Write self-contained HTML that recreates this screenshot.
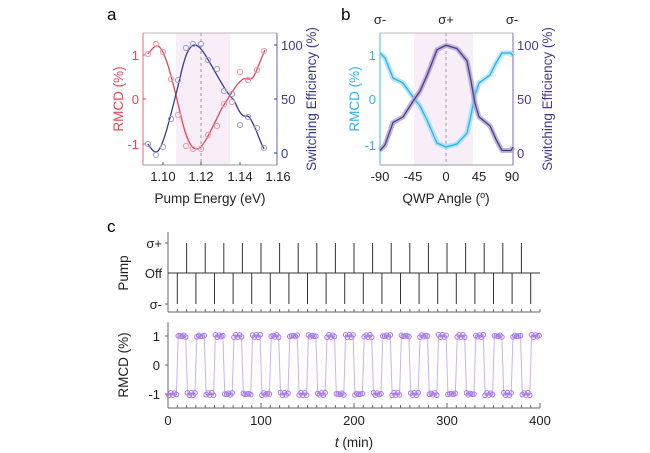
<!DOCTYPE html>
<html><head><meta charset="utf-8"><style>
body{margin:0;background:#fff;}
svg{display:block;font-family:"Liberation Sans",Arial,sans-serif;}
</style></head><body>
<svg id="s" width="650" height="453" viewBox="0 0 650 453" xmlns="http://www.w3.org/2000/svg">
<text x="107" y="20" font-size="17">a</text>
<rect x="176" y="33" width="54" height="132" fill="#f8eef8"/>
<line x1="201" y1="33" x2="201" y2="165" stroke="#999" stroke-dasharray="3,3" stroke-width="1"/>
<line x1="143" y1="33" x2="277" y2="33" stroke="#bbb"/>
<line x1="143" y1="165" x2="277" y2="165" stroke="#999"/>
<line x1="143" y1="33" x2="143" y2="165" stroke="#f09aa6" stroke-width="1.5"/>
<line x1="277" y1="33" x2="277" y2="165" stroke="#9a9ac8" stroke-width="1.5"/>
<g stroke="#e8455a"><line x1="143" y1="55" x2="146" y2="55"/><line x1="143" y1="99" x2="146" y2="99"/><line x1="143" y1="144" x2="146" y2="144"/></g>
<g stroke="#3a3a8c"><line x1="274" y1="45" x2="277" y2="45"/><line x1="274" y1="99" x2="277" y2="99"/><line x1="274" y1="153" x2="277" y2="153"/></g>
<g stroke="#555"><line x1="163" y1="165" x2="163" y2="162"/><line x1="201" y1="165" x2="201" y2="162"/><line x1="240" y1="165" x2="240" y2="162"/></g>
<g font-size="13" fill="#e8455a" text-anchor="end"><text x="139" y="60">1</text><text x="139" y="104">0</text><text x="139" y="149">-1</text></g>
<g font-size="13" fill="#3a3a8c"><text x="281" y="50">100</text><text x="281" y="104">50</text><text x="281" y="158">0</text></g>
<g font-size="13" fill="#222" text-anchor="middle"><text x="163" y="181">1.10</text><text x="201" y="181">1.12</text><text x="240" y="181">1.14</text><text x="278" y="181">1.16</text></g>
<text x="210" y="203" font-size="13.5" text-anchor="middle" fill="#222">Pump Energy (eV)</text>
<text transform="translate(123,99) rotate(-90)" font-size="13.5" fill="#e8455a" text-anchor="middle">RMCD (%)</text>
<text transform="translate(316,99) rotate(-90)" font-size="13.5" fill="#3a3a8c" text-anchor="middle">Switching Efficiency (%)</text>
<path d="M148,54 C152,49 155,45 158,46 C165,49 172,78 180,112 C185,135 190,148 196,149 C203,150 212,128 222,108 C230,96 236,84 243,79 C248,77 250,82 254,76 C258,68 262,56 265,50" fill="none" stroke="#e8455a" stroke-width="1.3"/>
<path d="M148,144 C152,150 155,154 158,151 C164,145 172,110 180,78 C185,55 189,46 194,45 C200,44 206,56 214,70 C222,84 228,95 234,100 C239,112 242,117 246,116 C250,115 252,122 256,130 C259,138 262,145 264,149" fill="none" stroke="#3a3a8c" stroke-width="1.3"/>
<g id="redpts" fill="none" stroke="#f29aa6" stroke-width="1"></g>
<g id="bluepts" fill="none" stroke="#a0a0d0" stroke-width="1"></g>

<text x="341" y="20" font-size="17">b</text>
<g font-size="13" text-anchor="middle" fill="#222"><text x="380" y="24">σ-</text><text x="446" y="24">σ+</text><text x="512" y="24">σ-</text></g>
<rect x="414" y="33" width="59" height="132" fill="#f8eef8"/>
<line x1="446" y1="33" x2="446" y2="165" stroke="#999" stroke-dasharray="3,3"/>
<line x1="380" y1="33" x2="513" y2="33" stroke="#bbb"/>
<line x1="380" y1="165" x2="513" y2="165" stroke="#999"/>
<line x1="380" y1="33" x2="380" y2="165" stroke="#7fd3f2" stroke-width="1.5"/>
<line x1="513" y1="33" x2="513" y2="165" stroke="#a79ad0" stroke-width="1.5"/>
<g font-size="13" fill="#2bb5e8" text-anchor="end"><text x="376" y="60">1</text><text x="376" y="104">0</text><text x="376" y="150">-1</text></g>
<g font-size="13" fill="#4a3a8c"><text x="517" y="50">100</text><text x="517" y="104">50</text><text x="517" y="158">0</text></g>
<g font-size="13" fill="#222" text-anchor="middle"><text x="380" y="181">-90</text><text x="413" y="181">-45</text><text x="446" y="181">0</text><text x="479" y="181">45</text><text x="512" y="181">90</text></g>
<text x="446" y="203" font-size="13.5" text-anchor="middle" fill="#222">QWP Angle (<tspan dy="-5" font-size="9">o</tspan><tspan dy="5">)</tspan></text>
<text transform="translate(359,99) rotate(-90)" font-size="13.5" fill="#2bb5e8" text-anchor="middle">RMCD (%)</text>
<text transform="translate(552,99) rotate(-90)" font-size="13.5" fill="#4a3a8c" text-anchor="middle">Switching Efficiency (%)</text>
<g id="bcurves"></g>

<text x="107" y="232" font-size="17">c</text>
<line x1="168" y1="232" x2="168" y2="312" stroke="#666"/>
<line x1="168" y1="312" x2="540" y2="312" stroke="#666"/>
<line x1="168" y1="273" x2="540" y2="273" stroke="#333"/>
<g stroke="#666"><line x1="165" y1="243" x2="168" y2="243"/><line x1="165" y1="304" x2="168" y2="304"/></g>
<g font-size="13" fill="#222" text-anchor="end"><text x="162" y="248">σ+</text><text x="162" y="278">Off</text><text x="162" y="309">σ-</text></g>
<text transform="translate(128,273) rotate(-90)" font-size="13.5" fill="#222" text-anchor="middle">Pump</text>
<g id="pump" stroke="#333" stroke-width="1"></g>
<line x1="168" y1="322" x2="168" y2="408" stroke="#666"/>
<line x1="168" y1="408" x2="540" y2="408" stroke="#666"/>
<g stroke="#666"><line x1="165" y1="336" x2="168" y2="336"/><line x1="165" y1="365" x2="168" y2="365"/><line x1="165" y1="394" x2="168" y2="394"/></g>
<g font-size="13" fill="#222" text-anchor="end"><text x="160" y="341">1</text><text x="160" y="370">0</text><text x="160" y="399">-1</text></g>
<text transform="translate(128,365) rotate(-90)" font-size="13.5" fill="#222" text-anchor="middle">RMCD (%)</text>
<g id="xt" stroke="#666"></g>
<g font-size="13" fill="#222" text-anchor="middle"><text x="168" y="425">0</text><text x="261" y="425">100</text><text x="354" y="425">200</text><text x="447" y="425">300</text><text x="540" y="425">400</text></g>
<text x="354" y="447" font-size="13.5" text-anchor="middle" fill="#222"><tspan font-style="italic">t</tspan> (min)</text>
<g id="rm"></g>
</svg>
<script>
var NS="http://www.w3.org/2000/svg";
function el(p,t,a){var e=document.createElementNS(NS,t);for(var k in a)e.setAttribute(k,a[k]);document.getElementById(p).appendChild(e);return e;}
var red=[[148,54],[156,44],[163,52],[171,79],[178,115],[186,146],[193,149],[201,149],[208,135],[217,126],[224,104],[232,102],[240,72],[248,80],[257,70],[264,51]];
var blue=[[148,144],[156,155],[163,147],[171,119],[178,80],[186,48],[193,44],[201,44],[208,60],[217,69],[224,91],[232,94],[240,125],[248,117],[257,128],[264,148]];
red.forEach(function(p){el("redpts","circle",{cx:p[0],cy:p[1],r:2.6});});
blue.forEach(function(p){el("bluepts","circle",{cx:p[0],cy:p[1],r:2.6});});
var cy=[[380,53],[385,58],[393,78],[403,83],[413,97],[420,106],[427,120],[437,143],[446,147],[457,144],[467,133],[471,115],[475,95],[479,83],[490,75],[496,63],[502,53],[511,53],[513,56]];
function pth(pts){return "M"+pts.map(function(p){return p[0]+","+p[1];}).join(" L");}
var pu=cy.map(function(p){return [p[0],198-p[1]+ (p[1]<99? (99-p[1])*0.12 : -(p[1]-99)*0.12)];});
[[cy,"#2bb5e8","#9fdcf5"],[pu,"#4a3a8c","#b0a4d4"]].forEach(function(c){
 el("bcurves","path",{d:pth(c[0]),fill:"none",stroke:c[2],"stroke-width":5,"stroke-linejoin":"round",opacity:0.8});
 el("bcurves","path",{d:pth(c[0]),fill:"none",stroke:c[1],"stroke-width":1.3});
});
function X(t){return 168+t*0.93;}
for(var k=0;k<20;k++){var x=X(10+20*k);el("pump","line",{x1:x,y1:273,x2:x,y2:304});}
for(var k=0;k<19;k++){var x=X(20+20*k);el("pump","line",{x1:x,y1:243,x2:x,y2:273});}
for(var t=0;t<=400;t+=10){var x=X(t);el("xt","line",{x1:x,y1:408,x2:x,y2:t%100?405:403});el("xt","line",{x1:x,y1:312,x2:x,y2:309});}
var pts=[],mk=[];
for(var s=0;s<40;s++){var hi=(s%2==1);var t0=s*10,t1=s*10+9;var yb=hi?336:394;
 [0,2,4,6,8].forEach(function(d){var t=t0+1+d*(t1-t0-1)/8;var y=yb+Math.sin(t*1.7)*1.3;pts.push([X(t),y]);mk.push([X(t),y]);});}
el("rm","path",{d:pth(pts),fill:"none",stroke:"#c9b3ef","stroke-width":1});
mk.forEach(function(p){el("rm","circle",{cx:p[0],cy:p[1],r:2.3,fill:"none",stroke:"#a878e8","stroke-width":1});});
</script>
</body></html>
